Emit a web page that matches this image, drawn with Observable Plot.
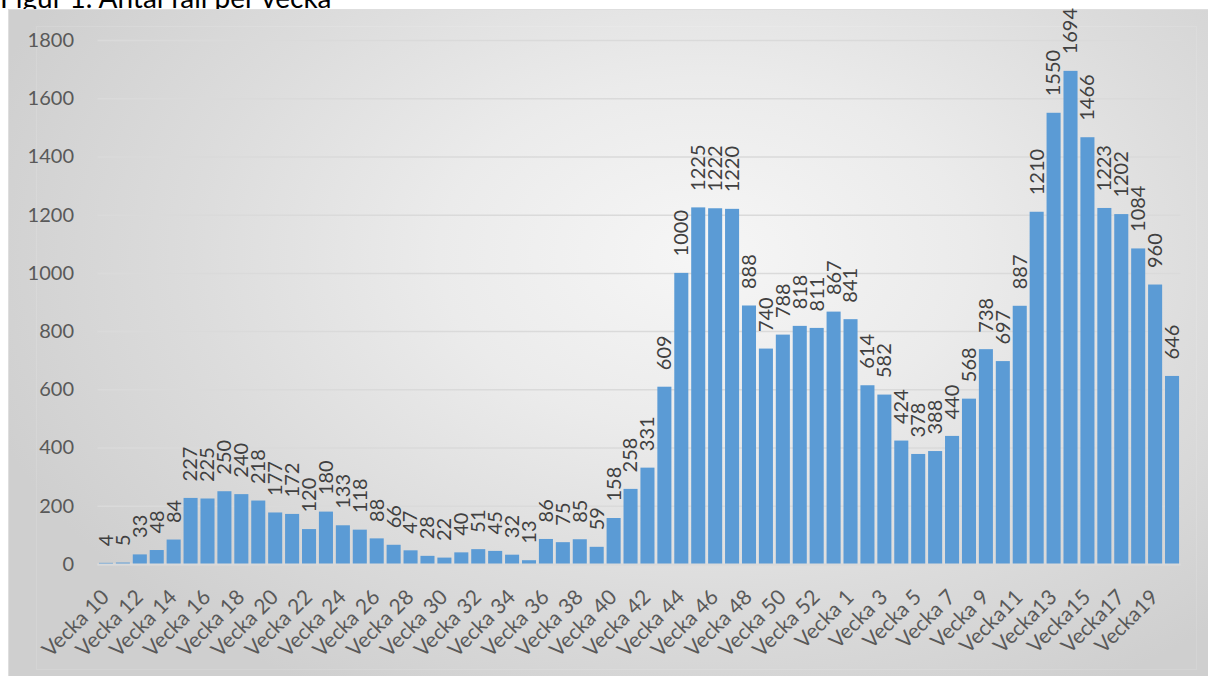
<!DOCTYPE html>
<html><head><meta charset="utf-8">
<script src="https://cdn.jsdelivr.net/npm/d3@7"></script>
<script src="https://cdn.jsdelivr.net/npm/@observablehq/plot@0.6"></script>
<style>
body{margin:0;background:#fff;overflow:hidden;width:1208px;height:676px;position:relative;font-family:Lato,sans-serif}
#title{position:absolute;left:0;top:-17px;font-size:28px;line-height:28px;color:#000;white-space:nowrap;font-family:Lato,sans-serif}
#frame{position:absolute;left:8px;top:9px;width:1220px;height:700px;box-sizing:border-box;border-top:1px solid #dedede;border-left:1px solid #dedede;
  background:radial-gradient(ellipse 62% 72% at 57% 35%, #f6f6f6 0%, #ebebeb 35%, #dcdcdc 68%, #cfcfcf 100%);}
#inner{position:absolute;left:36px;top:26px;width:1161px;height:644px;box-sizing:border-box;border:1px solid rgba(255,255,255,0.12)}
#chart{position:absolute;left:8px;top:9px}
</style></head><body>
<div id="title">Figur 1. Antal fall per vecka</div>
<div id="frame"></div>
<div id="inner"></div>
<div id="chart"></div>
<script>
const weeks = [
  "Vecka 10","Vecka 11","Vecka 12","Vecka 13","Vecka 14","Vecka 15","Vecka 16","Vecka 17","Vecka 18","Vecka 19",
  "Vecka 20","Vecka 21","Vecka 22","Vecka 23","Vecka 24","Vecka 25","Vecka 26","Vecka 27","Vecka 28","Vecka 29",
  "Vecka 30","Vecka 31","Vecka 32","Vecka 33","Vecka 34","Vecka 35","Vecka 36","Vecka 37","Vecka 38","Vecka 39",
  "Vecka 40","Vecka 41","Vecka 42","Vecka 43","Vecka 44","Vecka 45","Vecka 46","Vecka 47","Vecka 48","Vecka 49",
  "Vecka 50","Vecka 51","Vecka 52","Vecka 53","Vecka 1","Vecka 2","Vecka 3","Vecka 4","Vecka 5","Vecka 6",
  "Vecka 7","Vecka 8","Vecka 9","Vecka10","Vecka11","Vecka12","Vecka13","Vecka14","Vecka15","Vecka16",
  "Vecka17","Vecka18","Vecka19","Vecka20"
];
const cases = [
  4, 5, 33, 48, 84, 227, 225, 250, 240, 218,
  177, 172, 120, 180, 133, 118, 88, 66, 47, 28,
  22, 40, 51, 45, 32, 13, 86, 75, 85, 59,
  158, 258, 331, 609, 1000, 1225, 1222, 1220, 888, 740,
  788, 818, 811, 867, 841, 614, 582, 424, 378, 388,
  440, 568, 738, 697, 887, 1210, 1550, 1694, 1466, 1223,
  1202, 1084, 960, 646
];
const tickLabels = [
  "Vecka 10","Vecka 12","Vecka 14","Vecka 16","Vecka 18","Vecka 20","Vecka 22","Vecka 24","Vecka 26","Vecka 28",
  "Vecka 30","Vecka 32","Vecka 34","Vecka 36","Vecka 38","Vecka 40","Vecka 42","Vecka 44","Vecka 46","Vecka 48",
  "Vecka 50","Vecka 52","Vecka 1","Vecka 3","Vecka 5","Vecka 7","Vecka 9","Vecka11","Vecka13","Vecka15",
  "Vecka17","Vecka19"
];
const yTicks = [0, 200, 400, 600, 800, 1000, 1200, 1400, 1600, 1800];

const data = weeks.map((w, i) => ({week: w, value: cases[i]}));

const chart = Plot.plot({
  width: 1200,
  height: 667,
  marginLeft: 89.5,
  marginRight: 27.5,
  marginTop: 31,
  marginBottom: 112,
  style: {background: "transparent", fontFamily: "Lato, sans-serif", overflow: "visible"},
  x: {domain: weeks, paddingInner: 0.17, paddingOuter: 0.085, axis: null},
  y: {domain: [0, 1800], axis: null},
  marks: [
    Plot.gridY(yTicks, {stroke: "#dadada", strokeOpacity: 1, strokeWidth: 1.5}),
    Plot.barY(data, {x: "week", y: "value", fill: "#5b9bd5"}),
    Plot.ruleY([0], {stroke: "#dadada", strokeWidth: 2}),
    Plot.text(data, {x: "week", y: "value", text: d => String(d.value), rotate: -90, textAnchor: "start",
      dy: -17, fontSize: 20, fill: "#404040"}),
    Plot.axisY(yTicks, {tickSize: 0, tickPadding: 24, fontSize: 20, color: "#595959", fill: "#595959",
      label: null, tickFormat: d => String(d)}),
    Plot.text(tickLabels, {x: d => d, frameAnchor: "bottom", rotate: -45, textAnchor: "end", lineAnchor: "bottom",
      dx: 4, dy: 34, fontSize: 21, fill: "#595959"})
  ]
});
document.getElementById("chart").appendChild(chart);
</script>
</body></html>
